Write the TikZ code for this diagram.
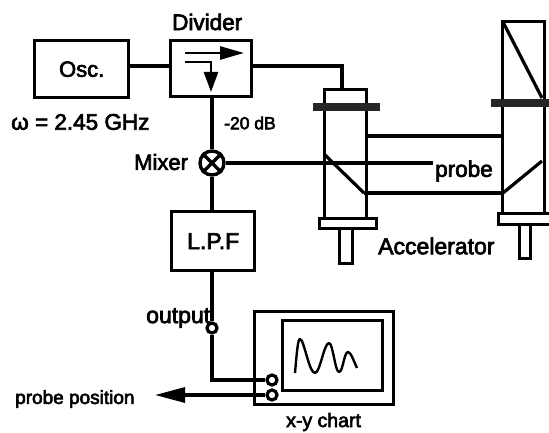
\documentclass[tikz,border=0pt]{standalone}
\usepackage{fontspec}
\setmainfont{Liberation Sans}
\usetikzlibrary{arrows.meta}
\newfontfamily\heavy[FakeBold=3]{Liberation Sans}
\newcommand{\fs}[1]{\fontsize{#1}{#1}\heavy}
\tikzset{
  wire/.style={line width=3.2pt,line join=miter},
  thin wire/.style={line width=2.6pt},
  blockbox/.style={draw,line width=3.4pt,inner sep=0pt,anchor=north west,align=center},
  partbox/.style={draw,line width=3.2pt,inner sep=0pt,anchor=north west},
  flange/.style={fill=black!85,inner sep=0pt,anchor=north west},
  jack/.style={circle,draw,line width=3.2pt,fill=white,inner sep=0pt,minimum size=10pt},
  lbl/.style={inner sep=0pt,anchor=west},
  bigtip/.style={-{Triangle[length=24pt,width=13pt]}},
}
\begin{document}
\begin{tikzpicture}[x=1pt,y=-1pt]
\useasboundingbox (0,0) rectangle (549,433);
% blocks
\node[blockbox,minimum width=94pt,minimum height=57pt] (osc) at (33,39) {\fs{22}Osc.};
\node[blockbox,minimum width=81pt,minimum height=56pt] (div) at (169,39) {};
\node[blockbox,minimum width=83pt,minimum height=59pt] (lpf) at (170,210) {\fs{23}L.P.F};
\node[circle,draw,line width=3.4pt,minimum size=24pt,inner sep=0pt,fill=white] (mix) at (212,163) {};
\draw[line width=3.4pt] (mix.45)--(mix.225) (mix.135)--(mix.315);
% accelerator 1
\node[partbox,minimum width=42pt,minimum height=129pt] (a1) at (323,88) {};
\node[flange,minimum width=67pt,minimum height=8pt] (f1) at (313,103) {};
\node[partbox,minimum width=57pt,minimum height=10pt] (b1) at (318,217) {};
\node[partbox,minimum width=13pt,minimum height=35pt] (s1) at (338,227) {};
\coordinate (d1a) at (325,155); \coordinate (d1b) at (364,193);
\draw[wire] (d1a)--(d1b);
% accelerator 2
\node[partbox,minimum width=42pt,minimum height=192pt] (a2) at (501,20) {};
\node[flange,minimum width=58pt,minimum height=8pt] (f2) at (491,99) {};
\node[partbox,minimum width=56pt,minimum height=11pt] (b2) at (497,212) {};
\node[partbox,minimum width=11pt,minimum height=34pt] (s2) at (518,223) {};
\coordinate (d2a) at (503,22); \coordinate (d2b) at (542,98);
\coordinate (d2c) at (503,193); \coordinate (d2d) at (542,161);
\draw[wire] (d2a)--(d2b) (d2c)--(d2d);
% waveguides
\coordinate (g1) at (365,136); \coordinate (g2) at (501,136);
\draw[wire] (g1)--(g2);
\draw[wire] (d1b)--(d2c);
% connections
\draw[wire] (osc.east |- 0,66) -- (div.west |- 0,66);
\coordinate (acctop) at (342,88);
\draw[wire] (div.east |- 0,66) -| (acctop);
\draw[wire] (div.south -| mix) -- (mix.north);
\coordinate (probeend) at (433,163);
\draw[wire] (mix.east) -- (probeend);
\draw[wire] (mix.south) -- (lpf.north -| mix);
% divider arrows
\coordinate (da1) at (185,53); \coordinate (da2) at (244,53);
\coordinate (db1) at (185,62); \coordinate (db2) at (211,62); \coordinate (db3) at (211,92);
\draw[thin wire,bigtip] (da1)--(da2);
\draw[thin wire,-{Triangle[length=20pt,width=14pt]}] (db1)--(db2)--(db3);
% chart
\node[blockbox,minimum width=139pt,minimum height=93pt] (chart) at (253,310) {};
\node[partbox,line width=2.6pt,minimum width=100pt,minimum height=70pt] (screen) at (281,319) {};
\draw[line width=2.4pt,line join=round]
  (295,373) .. controls (297,350) and (298,339) .. (300,339)
  .. controls (304,339) and (309,373) .. (315,373)
  .. controls (320,373) and (324,343) .. (329,343)
  .. controls (333,343) and (335,372) .. (339,372)
  .. controls (343,372) and (344,352) .. (348,352)
  .. controls (351,352) and (354,362) .. (357,368);
\node[jack] (out) at (212,328) {};
\node[jack] (jx) at (272,380) {};
\node[jack] (jy) at (272,395) {};
\draw[wire] (lpf.south -| out) -- (out.north);
\draw[wire] (out.south) |- (jx.west);
\coordinate (pp) at (155,395);
\draw[wire,-{Triangle[length=30pt,width=15pt]}] (jy.west) -- (pp);
% labels
\node[lbl] (t1) at (172,22) {\fs{22.5}Divider};
\node[lbl] (t2) at (11,122) {\fs{22.5}ω = 2.45 GHz};
\node[lbl] (t3) at (224,123) {\fs{17.5}-20 dB};
\node[lbl] (t4) at (134,162) {\fs{22}Mixer};
\node[lbl] (t5) at (435,171) {\fs{22.5}probe};
\node[lbl] (t6) at (378,246) {\fs{23}Accelerator};
\node[lbl] (t7) at (146,318) {\fs{23}output};
\node[lbl] (t8) at (15,399) {\fs{19}probe position};
\node[lbl] (t9) at (286,422) {\fs{19.5}x-y chart};
\end{tikzpicture}
\end{document}
